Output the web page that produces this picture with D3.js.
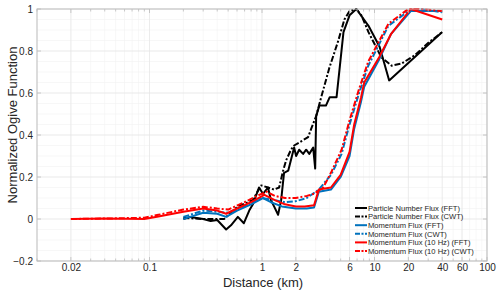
<!DOCTYPE html>
<html>
<head>
<meta charset="utf-8">
<script src="https://cdn.jsdelivr.net/npm/d3@7"></script>
<style>
  body { margin: 0; background: #fff; }
  text { font-family: "Liberation Sans", Arial, sans-serif; }
</style>
</head>
<body>
<div id="chart"></div>
<script>
// series: [distance (km), normalized ogive]
const pnFFT = [[0.2,0.0],[0.23,0.01],[0.3,0.0],[0.35,-0.01],[0.4,-0.005],[0.48,-0.05],[0.53,-0.03],[0.61,0.01],[0.69,-0.02],[0.77,0.04],[0.83,0.07],[0.94,0.15],[1.02,0.12],[1.13,0.15],[1.2,0.09],[1.28,0.06],[1.39,0.02],[1.48,0.09],[1.57,0.22],[1.71,0.23],[1.93,0.34],[2.01,0.3],[2.14,0.33],[2.32,0.31],[2.47,0.33],[2.63,0.31],[2.85,0.34],[2.97,0.24],[3.03,0.49],[3.23,0.54],[3.7,0.54],[4.0,0.58],[4.6,0.58],[5.3,0.89],[6.0,0.97],[6.9,1.0],[8.84,0.92],[11.1,0.82],[13.5,0.66],[40,0.89]];
const pnCWT = [[0.2,0.005],[0.3,0.0],[0.35,0.0],[0.46,0.0],[0.61,0.06],[0.83,0.09],[0.98,0.16],[1.13,0.15],[1.28,0.14],[1.42,0.15],[1.54,0.23],[1.64,0.28],[1.81,0.33],[1.93,0.35],[2.23,0.37],[2.57,0.39],[2.74,0.43],[3.03,0.49],[3.36,0.58],[3.97,0.72],[4.77,0.85],[5.4,0.95],[6.0,0.99],[6.9,1.0],[7.65,0.97],[8.84,0.89],[11.5,0.77],[14.2,0.73],[17.4,0.74],[22.8,0.78],[30.3,0.84],[40,0.89]];
const mfFFT = [[0.2,0.0],[0.23,0.01],[0.3,0.03],[0.4,0.025],[0.48,0.01],[0.6,0.04],[0.8,0.07],[1.02,0.1],[1.2,0.08],[1.5,0.06],[2.0,0.05],[2.5,0.05],[2.9,0.055],[3.2,0.13],[4.1,0.14],[5.0,0.2],[6.0,0.3],[6.6,0.43],[7.6,0.56],[8.1,0.63],[11,0.76],[14,0.88],[21,0.99],[40,0.99]];
const mfCWT = [[0.2,0.01],[0.3,0.04],[0.5,0.03],[0.7,0.06],[1.0,0.1],[1.3,0.09],[1.6,0.08],[2.0,0.085],[2.5,0.1],[3.2,0.14],[4.1,0.21],[5.1,0.31],[6,0.45],[7.3,0.6],[8.8,0.73],[13.3,0.92],[20,0.99],[25,1.0],[40,0.985]];
const mf10FFT = [[0.02,0.0],[0.04,0.002],[0.09,0.0],[0.12,0.012],[0.2,0.035],[0.3,0.05],[0.4,0.04],[0.48,0.025],[0.6,0.05],[0.8,0.08],[1.05,0.115],[1.3,0.09],[1.6,0.07],[2.0,0.06],[2.4,0.06],[2.9,0.065],[3.2,0.14],[4.1,0.15],[5.0,0.21],[6.0,0.32],[6.6,0.45],[7.6,0.58],[8.1,0.65],[11,0.77],[14,0.88],[21,1.0],[40,0.95]];
const mf10CWT = [[0.02,0.0],[0.05,0.003],[0.09,0.006],[0.12,0.02],[0.2,0.045],[0.3,0.058],[0.4,0.05],[0.5,0.045],[0.7,0.08],[0.9,0.11],[1.1,0.13],[1.3,0.11],[1.6,0.1],[2.0,0.1],[2.5,0.11],[2.9,0.12],[3.5,0.15],[4.1,0.22],[5.1,0.33],[6,0.47],[7.3,0.62],[8.8,0.75],[13.3,0.93],[20,1.0],[25,1.0],[40,0.99]];

const seriesNames = ["Particle Number Flux (FFT)", "Particle Number Flux (CWT)", "Momentum Flux (FFT)", "Momentum Flux (CWT)", "Momentum Flux (10 Hz) (FFT)", "Momentum Flux (10 Hz) (CWT)"];
const xTickValues = [0.02, 0.1, 1, 2, 6, 10, 20, 40, 60, 100];
const yTickValues = [-0.2, 0, 0.2, 0.4, 0.6, 0.8, 1];

const series = [
  {name: seriesNames[0], data: pnFFT, color: "#000000", dash: null},
  {name: seriesNames[1], data: pnCWT, color: "#000000", dash: "6,2,2,2"},
  {name: seriesNames[2], data: mfFFT, color: "#0072BD", dash: null},
  {name: seriesNames[3], data: mfCWT, color: "#0072BD", dash: "6,2,2,2"},
  {name: seriesNames[4], data: mf10FFT, color: "#FF0000", dash: null},
  {name: seriesNames[5], data: mf10CWT, color: "#FF0000", dash: "6,2,2,2"}
];

const W = 500, H = 295;
const margin = {top: 9, right: 13, bottom: 34, left: 37};
const width = W - margin.left - margin.right,
    height = H - margin.top - margin.bottom;

const svg = d3.select("#chart").append("svg")
    .attr("width", W).attr("height", H);
const g = svg.append("g")
    .attr("transform", `translate(${margin.left},${margin.top})`);

const x = d3.scaleLog().domain([0.01, 100]).range([0, width]);
const y = d3.scaleLinear().domain([-0.2, 1]).range([height, 0]);

// minor positions
const xMinor = [];
[0.01, 0.1, 1, 10].forEach(function (dec) {
  for (let k = 1; k <= 9; k++) xMinor.push(dec * k);
});
xMinor.push(100);
const yMinor = d3.range(-0.2, 1.0001, 0.05).map(v => +v.toFixed(2));

// grid
g.append("g").selectAll("line").data(xMinor).join("line")
    .attr("x1", d => x(d)).attr("x2", d => x(d))
    .attr("y1", 0).attr("y2", height)
    .attr("stroke", "#f1f1f1").attr("stroke-width", 0.6);
g.append("g").selectAll("line").data(yMinor).join("line")
    .attr("x1", 0).attr("x2", width)
    .attr("y1", d => y(d)).attr("y2", d => y(d))
    .attr("stroke", "#f1f1f1").attr("stroke-width", 0.6);
g.append("g").selectAll("line").data(xTickValues).join("line")
    .attr("x1", d => x(d)).attr("x2", d => x(d))
    .attr("y1", 0).attr("y2", height)
    .attr("stroke", "#e4e4e4").attr("stroke-width", 0.6);
g.append("g").selectAll("line").data(yTickValues).join("line")
    .attr("x1", 0).attr("x2", width)
    .attr("y1", d => y(d)).attr("y2", d => y(d))
    .attr("stroke", "#e4e4e4").attr("stroke-width", 0.6);

// lines
const line = d3.line()
    .x(d => x(d[0]))
    .y(d => y(d[1]));

series.forEach(function (s) {
  g.append("path")
      .datum(s.data)
      .attr("fill", "none")
      .attr("stroke", s.color)
      .attr("stroke-width", 2)
      .attr("stroke-linejoin", "round")
      .attr("stroke-dasharray", s.dash)
      .attr("d", line);
});

// axes (ticks inside, box)
const axisColor = "#bdbdbd";
const fmt = d => (d < 1 ? String(d) : d3.format("d")(d));

const xAxis = g.append("g")
    .attr("transform", `translate(0,${height})`)
    .call(d3.axisBottom(x).tickValues(xTickValues).tickFormat(fmt).tickSize(0).tickPadding(3));
const yAxis = g.append("g")
    .call(d3.axisLeft(y).tickValues(yTickValues).tickFormat(d => d === 0 ? "0" : (d < 0 ? "\u2212" + Math.abs(d) : String(d))).tickSize(0).tickPadding(4));
[xAxis, yAxis].forEach(function (a) {
  a.select(".domain").remove();
  a.selectAll("text").attr("fill", "#262626").style("font-size", "10px")
      .style("font-family", "'Liberation Sans', Arial, sans-serif");
});

// box
g.append("rect").attr("width", width).attr("height", height)
    .attr("fill", "none").attr("stroke", axisColor).attr("stroke-width", 1);

// tick marks inside, top and bottom, left and right
const tickG = g.append("g").attr("stroke", axisColor).attr("stroke-width", 0.8);
xMinor.forEach(function (d) {
  const major = xTickValues.indexOf(d) >= 0;
  const len = major ? 4 : 2.5;
  tickG.append("line").attr("x1", x(d)).attr("x2", x(d)).attr("y1", height).attr("y2", height - len);
  tickG.append("line").attr("x1", x(d)).attr("x2", x(d)).attr("y1", 0).attr("y2", len);
});
yTickValues.forEach(function (d) {
  tickG.append("line").attr("x1", 0).attr("x2", 4).attr("y1", y(d)).attr("y2", y(d));
  tickG.append("line").attr("x1", width).attr("x2", width - 4).attr("y1", y(d)).attr("y2", y(d));
});

// axis labels
svg.append("text")
    .attr("x", 263).attr("y", 287)
    .attr("text-anchor", "middle")
    .attr("fill", "#262626")
    .style("font-size", "13px")
    .text("Distance (km)");
svg.append("text")
    .attr("transform", "translate(17,125) rotate(-90)")
    .attr("text-anchor", "middle")
    .attr("fill", "#262626")
    .style("font-size", "13px")
    .text("Normalized Ogive Function");

// legend
const legend = svg.append("g").attr("transform", "translate(355,208)");
series.forEach(function (s, i) {
  const row = legend.append("g").attr("transform", `translate(0,${i * 8.6})`);
  row.append("line").attr("x1", 0).attr("x2", 12).attr("y1", 0).attr("y2", 0)
      .attr("stroke", s.color).attr("stroke-width", 2)
      .attr("stroke-dasharray", s.dash ? "5,1.5,2,1.5" : null);
  row.append("text").attr("x", 13).attr("y", 2.7)
      .attr("fill", "#262626")
      .style("font-size", "7.6px")
      .text(s.name);
});
</script>
</body>
</html>
